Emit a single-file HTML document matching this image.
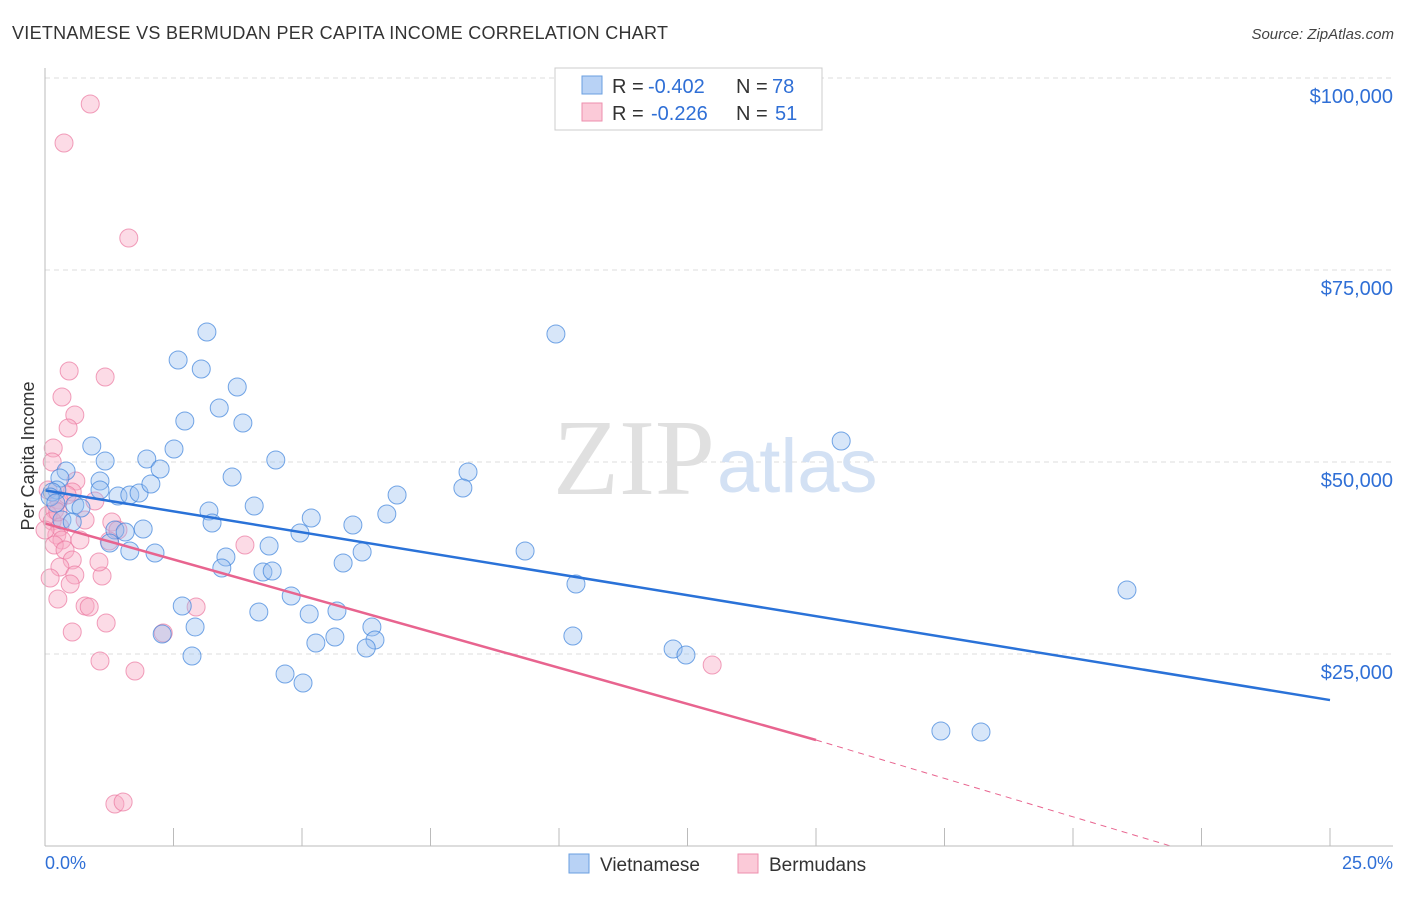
<!DOCTYPE html>
<html><head><meta charset="utf-8"><style>
body{margin:0;background:#fff;font-family:"Liberation Sans",sans-serif;}
</style></head><body>
<svg width="1406" height="892" xmlns="http://www.w3.org/2000/svg" font-family="Liberation Sans, sans-serif">
<text x="12" y="39" font-size="18" fill="#333" textLength="656">VIETNAMESE VS BERMUDAN PER CAPITA INCOME CORRELATION CHART</text>
<text x="1394" y="39" font-size="15" fill="#444" font-style="italic" text-anchor="end">Source: ZipAtlas.com</text>
<g id="grid"></g>
<text x="553" y="494" font-size="108" fill="#e0e0e0" font-family="Liberation Serif, serif">ZIP</text>
<text x="717" y="492" font-size="76" fill="#d3e1f4">atlas</text>
<g id="pts"></g>
<g id="lines"></g>
<line x1="45" y1="68" x2="45" y2="846" stroke="#bbb"/>
<line x1="45" y1="846" x2="1393" y2="846" stroke="#bbb"/>
<g id="xt"></g>
<text x="45" y="869" font-size="18" fill="#2f6fd6">0.0%</text>
<text x="1393" y="869" font-size="18" fill="#2f6fd6" text-anchor="end">25.0%</text>
<text transform="translate(34,456) rotate(-90)" font-size="18" fill="#333" text-anchor="middle">Per Capita Income</text>
<g>
<rect x="555" y="68" width="267" height="62" fill="#fff" stroke="#ccc"/>
<rect x="582" y="76" width="20" height="18" fill="#b8d2f5" stroke="#6a9fe0"/>
<rect x="582" y="103" width="20" height="18" fill="#fbcad8" stroke="#ee8fae"/>
<text x="612" y="93" font-size="20" fill="#333">R =</text>
<text x="648" y="93" font-size="20" fill="#2f6fd6">-0.402</text>
<text x="736" y="93" font-size="20" fill="#333">N =</text>
<text x="772" y="93" font-size="20" fill="#2f6fd6">78</text>
<text x="612" y="120" font-size="20" fill="#333">R =</text>
<text x="651" y="120" font-size="20" fill="#2f6fd6">-0.226</text>
<text x="736" y="120" font-size="20" fill="#333">N =</text>
<text x="775" y="120" font-size="20" fill="#2f6fd6">51</text>
</g>
<g><rect x="569" y="854" width="20" height="19" fill="#b8d2f5" stroke="#6a9fe0"/><text x="600" y="871" font-size="19" fill="#333">Vietnamese</text></g>
<g><rect x="738" y="854" width="20" height="19" fill="#fbcad8" stroke="#ee8fae"/><text x="769" y="871" font-size="19" fill="#333">Bermudans</text></g>
</svg>
<script>
const yTicks=[25000,50000,75000,100000];
const yTickLabels=["$25,000","$50,000","$75,000","$100,000"];
const xTicks=[0,2.5,5,7.5,10,12.5,15,17.5,20,22.5,25];
const bluePx=[[66,471],[60,478],[57,490],[52,492],[50,497],[56,503],[75,505],[62,520],[92,446],[105,461],[100,481],[100,490],[118,496],[130,495],[139,493],[147,459],[160,469],[151,484],[174,449],[178,360],[207,332],[201,369],[185,421],[219,408],[237,387],[243,423],[232,477],[209,511],[212,523],[254,506],[276,460],[226,557],[222,568],[143,529],[115,530],[110,543],[130,551],[155,553],[182,606],[195,627],[162,634],[192,656],[269,546],[263,572],[272,571],[291,596],[259,612],[300,533],[311,518],[309,614],[337,611],[353,525],[362,552],[343,563],[372,627],[375,640],[335,637],[316,643],[285,674],[303,683],[366,648],[387,514],[397,495],[468,472],[463,488],[525,551],[556,334],[576,584],[573,636],[673,649],[686,655],[841,441],[941,731],[981,732],[1127,590],[81,508],[72,522],[125,532]];
const pinkPx=[[90,104],[64,143],[129,238],[69,371],[105,377],[62,397],[75,415],[68,428],[53,448],[76,481],[72,492],[95,501],[59,500],[55,510],[48,515],[52,521],[60,527],[57,535],[62,540],[54,545],[65,550],[72,560],[60,567],[75,575],[102,576],[50,578],[70,584],[58,599],[85,606],[89,607],[112,522],[118,530],[109,541],[99,562],[106,623],[72,632],[100,661],[135,671],[163,633],[196,607],[245,545],[712,665],[115,804],[123,802],[85,520],[48,490],[52,462],[67,495],[80,540],[45,530],[58,512]];
const blueX=bluePx.map(p=>+((p[0]-45)/51.4).toFixed(2)), blueY=bluePx.map(p=>Math.round((846-p[1])*130.2));
const pinkX=pinkPx.map(p=>+((p[0]-45)/51.4).toFixed(2)), pinkY=pinkPx.map(p=>Math.round((846-p[1])*130.2));
const blueTrend=[[0,46300],[25,19000]];
const pinkTrend=[[0,42000],[15,13800],[21.9,0]];
const sx=v=>45+v*51.4, sy=v=>846-v/130.2;
const NS="http://www.w3.org/2000/svg";
function mk(t,a,parent){const e=document.createElementNS(NS,t);for(const k in a)e.setAttribute(k,a[k]);document.getElementById(parent).appendChild(e);return e;}
yTicks.forEach((v,i)=>{
 const l=mk('line',{x1:45,x2:1393,y1:sy(v),y2:sy(v),stroke:'#ddd','stroke-dasharray':'5,4'},'grid');
 
 
 const t=mk('text',{x:1393,y:sy(v)+25,'font-size':20,fill:'#2f6fd6','text-anchor':'end'},'grid');
 t.textContent=yTickLabels[i];
 
 
});
xTicks.forEach(v=>{
 const l=mk('line',{x1:sx(v),x2:sx(v),y1:828,y2:846,stroke:'#bbb'},'xt');
 
 
});
pinkX.forEach((x,i)=>{
 const c=mk('circle',{cx:sx(x),cy:sy(pinkY[i]),r:9,fill:'rgba(248,170,195,0.42)',stroke:'rgba(235,120,160,0.7)','stroke-width':1},'pts');
 
 
});
blueX.forEach((x,i)=>{
 const c=mk('circle',{cx:sx(x),cy:sy(blueY[i]),r:9,fill:'rgba(150,190,240,0.38)',stroke:'rgba(60,130,220,0.7)','stroke-width':1},'pts');
 
 
});
const bl=mk('line',{x1:sx(blueTrend[0][0]),y1:sy(blueTrend[0][1]),x2:sx(blueTrend[1][0]),y2:sy(blueTrend[1][1]),stroke:'#2a72d8','stroke-width':2.5},'lines');


const pl=mk('line',{x1:sx(pinkTrend[0][0]),y1:sy(pinkTrend[0][1]),x2:sx(pinkTrend[1][0]),y2:sy(pinkTrend[1][1]),stroke:'#e8648f','stroke-width':2.5},'lines');


const pd=mk('line',{x1:sx(pinkTrend[1][0]),y1:sy(pinkTrend[1][1]),x2:sx(pinkTrend[2][0]),y2:sy(pinkTrend[2][1]),stroke:'#e8648f','stroke-width':1,'stroke-dasharray':'6,5'},'lines');


</script>
</body></html>
